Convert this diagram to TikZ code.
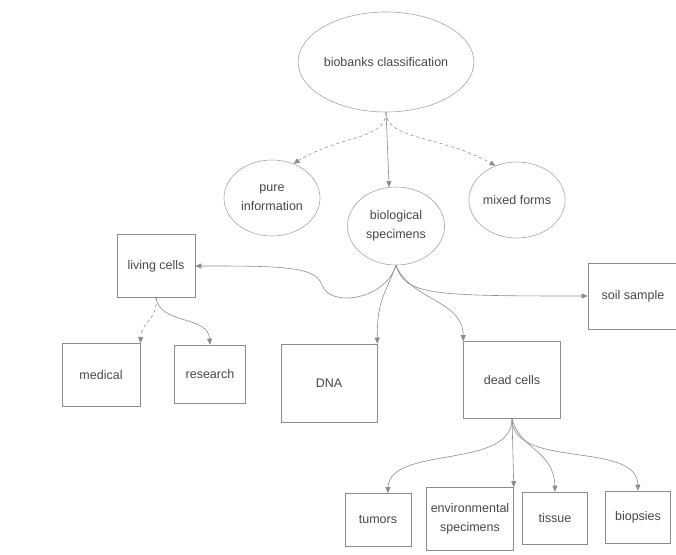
\documentclass[tikz,border=0pt]{standalone}
\usepackage{fontspec}
\setmainfont{Liberation Sans}
\usetikzlibrary{shapes,arrows.meta}

\begin{document}
\begin{tikzpicture}[x=1pt,y=-1pt,
    every node/.style={font=\fontsize{12.5}{19}\selectfont,text=black!72,align=center,inner sep=0pt},
    bubble/.style={ellipse,draw=black!35,line width=0.6pt},
    box/.style={rectangle,draw=black!45,line width=0.6pt},
    link/.style={draw=black!45,line width=0.6pt,-{Triangle[length=6pt,width=5pt]}}]
    \useasboundingbox (0,0) rectangle (676,554);
    % ellipses
    \node[bubble,minimum width=137,minimum height=100] (classif) at (386,62) {biobanks classification};
    \node[bubble,minimum width=96,minimum height=76] (pure) at (272,198) {pure\\information};
    \node[bubble,minimum width=97,minimum height=78] (spec) at (396,226) {biological\\specimens};
    \node[bubble,minimum width=88,minimum height=76] (mixed) at (517,200) {mixed forms};
    % boxes
    \node[box,minimum width=78,minimum height=63] (living) at (156,266) {living cells};
    \node[box,minimum width=78,minimum height=63] (medical) at (101,375) {medical};
    \node[box,minimum width=71,minimum height=58] (research) at (210,374) {research};
    \node[box,minimum width=96,minimum height=78] (dna) at (329,383) {DNA};
    \node[box,minimum width=97,minimum height=77] (dead) at (512,380) {dead cells};
    \node[box,minimum width=90,minimum height=66] (soil) at (633,296) {soil sample};
    \node[box,minimum width=66,minimum height=53] (tumors) at (378,520) {tumors};
    \node[box,minimum width=87,minimum height=63] (env) at (470,519) {environmental\\specimens};
    \node[box,minimum width=65,minimum height=52] (tissue) at (555,518) {tissue};
    \node[box,minimum width=65,minimum height=52] (biopsies) at (638,517) {biopsies};
    % top level links
    \draw[link,dashed] (classif.south) .. controls (386,140) and (340,135) .. (pure.58);
    \draw[link] (classif.south) -- (spec.100);
    \draw[link,dashed] (classif.south) .. controls (386,140) and (440,135) .. (mixed.122);
    % biological specimens
    \coordinate (bend) at (322,285);
    \draw[link] (spec.south) .. controls (385,300) and (330,308) .. (bend) .. controls (316,266) and (280,266) .. (living.east);
    \draw[link] (spec.south) .. controls (405,295) and (430,296) .. (soil.west);
    \draw[link] (spec.south) .. controls (385,295) and (377,300) .. (dna.north east);
    \draw[link] (spec.south) .. controls (410,300) and (463,300) .. (dead.north west);
    % living cells
    \draw[link,dashed] (living.south) .. controls (158,320) and (142,320) .. (medical.north east);
    \draw[link] (living.south) .. controls (160,325) and (208,315) .. (research.north);
    % dead cells
    \draw[link] (dead.south) .. controls (512,470) and (390,445) .. (tumors.70);
    \draw[link] (dead.south) -- (env.north east);
    \draw[link] (dead.south) .. controls (520,450) and (554,450) .. (tissue.north);
    \draw[link] (dead.south) .. controls (512,470) and (637,440) .. (biopsies.north);
\end{tikzpicture}
\end{document}
